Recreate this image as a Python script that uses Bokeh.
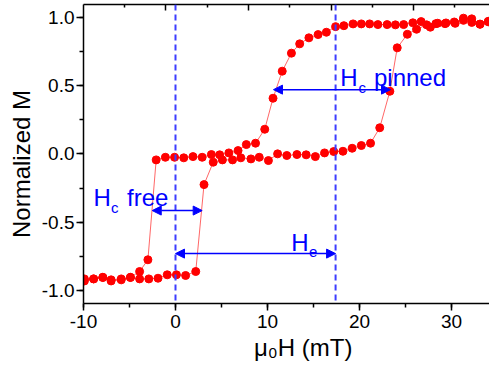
import math
from bokeh.plotting import figure
from bokeh.models import (Range1d, SingleIntervalTicker, FixedTicker, LinearAxis,
                          PrintfTickFormatter, CustomJSTickFormatter, Span, Arrow,
                          NormalHead, Label)
from bokeh.embed import file_html
from bokeh.resources import INLINE

# Field sweep from positive to negative saturation (mT, normalized M)
H_down = [34.0, 33.1, 32.2, 31.3, 30.4, 29.4, 28.5, 27.7, 26.7, 25.8, 24.8, 23.9, 23.0,
          22.0, 21.1, 20.2, 19.3, 18.3, 17.4, 16.4, 15.5, 14.5, 13.5, 12.6, 11.6, 10.6,
          9.7, 8.7, 7.7, 6.8, 5.8, 4.8, 3.9, 2.9, 1.9, 0.9, -0.1, -1.1, -2.1, -3.0,
          -3.9, -4.9, -5.9, -7.0, -7.9, -8.9, -9.9]
M_down = [0.970, 0.950, 0.988, 0.993, 0.955, 0.958, 0.956, 0.927, 0.968, 0.959, 0.946,
          0.944, 0.946, 0.946, 0.951, 0.951, 0.951, 0.938, 0.931, 0.890, 0.873, 0.849,
          0.805, 0.737, 0.605, 0.407, 0.180, 0.078, 0.068, 0.024, 0.007, -0.007, -0.005,
          -0.025, -0.020, -0.029, -0.025, -0.025, -0.044, -0.775, -0.861, -0.903, -0.915,
          -0.922, -0.903, -0.915, -0.915]

# Field sweep from negative to positive saturation
H_up = [-9.9, -8.9, -7.9, -7.0, -5.9, -4.9, -3.9, -2.9, -1.9, -0.9, 0.1, 1.1, 2.2, 3.1,
        4.1, 5.1, 6.2, 7.1, 8.2, 9.1, 10.1, 11.1, 12.1, 13.2, 14.2, 15.2, 16.2, 17.2,
        18.2, 19.2, 20.2, 21.2, 22.2, 23.3, 24.1, 25.2, 26.2, 27.3, 28.3, 29.3, 30.3,
        31.3, 32.2, 33.1, 34.0]
M_up = [-0.930, -0.915, -0.905, -0.930, -0.922, -0.905, -0.915, -0.915, -0.910, -0.885,
        -0.885, -0.890, -0.861, -0.225, -0.061, -0.044, -0.044, -0.029, -0.037, -0.025,
        -0.049, 0.000, -0.012, -0.005, -0.007, -0.020, 0.007, 0.017, 0.019, 0.041, 0.061,
        0.078, 0.191, 0.458, 0.776, 0.875, 0.912, 0.944, 0.953, 0.953, 0.965, 0.977,
        0.962, 0.948, 0.966]

# Switching fields of the two layers and the loop shift
free_switch = (-2.53, 2.90)
pinned_switch = (10.65, 23.37)
exchange_shift = 17.4

RED = "#ff0000"
BLUE = "#0000ff"
DASH_BLUE = "#3d3dff"
FONT = "Liberation Sans"
NBSP = "\u00a0"

p = figure(width=489, height=369, output_backend="svg", toolbar_location=None,
           x_range=Range1d(-10, 34.13), y_range=Range1d(-1.095, 1.093),
           min_border_left=83, min_border_right=0, min_border_top=4,
           min_border_bottom=66)
p.grid.visible = False
p.outline_line_color = None
p.background_fill_color = "white"
p.border_fill_color = "white"

def style_axis(ax, tick_out, minor_out, tick_in=0, minor_in=0):
    ax.axis_line_width = 1.5
    ax.major_tick_line_width = 1.5
    ax.minor_tick_line_width = 1.5
    ax.major_tick_out = tick_out
    ax.major_tick_in = tick_in
    ax.minor_tick_out = minor_out
    ax.minor_tick_in = minor_in
    ax.major_label_text_font = FONT
    ax.major_label_text_font_size = "19px"
    ax.major_label_text_color = "black"
    ax.axis_label_text_font = FONT
    ax.axis_label_text_font_size = "24px"
    ax.axis_label_text_font_style = "normal"
    ax.axis_label_text_color = "black"

xa = p.xaxis[0]
xa.ticker = SingleIntervalTicker(interval=10, num_minor_ticks=2)
xa.formatter = PrintfTickFormatter(format="%d")
style_axis(xa, 7, 4)
xa.major_label_standoff = 4
xa.axis_label = NBSP * 5 + "\u03bc\u2080H (mT)"
xa.axis_label_standoff = 3

ya = p.yaxis[0]
ya.ticker = SingleIntervalTicker(interval=0.5, num_minor_ticks=2)
ya.formatter = PrintfTickFormatter(format="%.1f")
style_axis(ya, 7, 4)
ya.major_label_standoff = 2
ya.axis_label = "Normalized M" + NBSP * 3
ya.axis_label_standoff = 4

# Unlabelled top axis with inward ticks
top_step = 8.98
top_major = [-1.05 + top_step * k for k in range(4)]
top_minor = [-1.05 - top_step / 2 + top_step * k for k in range(5)]
top = LinearAxis(ticker=FixedTicker(ticks=top_major, minor_ticks=top_minor),
                 formatter=CustomJSTickFormatter(code="return ''"))
style_axis(top, 0, 0, tick_in=6, minor_in=3)
top.major_label_text_font_size = "0px"
top.major_label_standoff = 0
p.add_layout(top, "above")

# Reference lines at zero field and at the loop centre
for loc in (0, exchange_shift):
    p.add_layout(Span(location=loc, dimension="height", line_color=DASH_BLUE,
                      line_width=2, line_dash="6 4"))

# Hysteresis loop
for hx, my in ((H_down, M_down), (H_up, M_up)):
    p.line(hx, my, line_color=RED, line_width=1, line_alpha=0.6)
    p.scatter(hx, my, size=8, fill_color=RED, line_color=RED)

def double_arrow(x0, x1, y):
    head = dict(size=9, fill_color=BLUE, line_color=BLUE, line_width=1)
    p.add_layout(Arrow(x_start=x0, y_start=y, x_end=x1, y_end=y,
                       start=NormalHead(**head), end=NormalHead(**head),
                       line_color=BLUE, line_width=1.5))

double_arrow(pinned_switch[0], pinned_switch[1], 0.47)
double_arrow(free_switch[0], free_switch[1], -0.415)
double_arrow(0, exchange_shift, -0.73)

def label(x, y, text, size, color=BLUE):
    p.add_layout(Label(x=x, y=y, text=text, text_font=FONT,
                       text_font_size=f"{size}px", text_color=color,
                       text_baseline="alphabetic", text_align="left"))

# H_c pinned
label(17.90, 0.560, "H", 24)
label(19.89, 0.483, "c", 15)
label(21.57, 0.560, "pinned", 24)
# H_c free
label(-8.91, -0.317, "H", 24)
label(-7.01, -0.390, "c", 15)
label(-5.27, -0.317, "free", 24)
# H_e
label(12.57, -0.651, "H", 24)
label(14.51, -0.720, "e", 15)

open("out.html", "w").write(file_html(p, INLINE))
